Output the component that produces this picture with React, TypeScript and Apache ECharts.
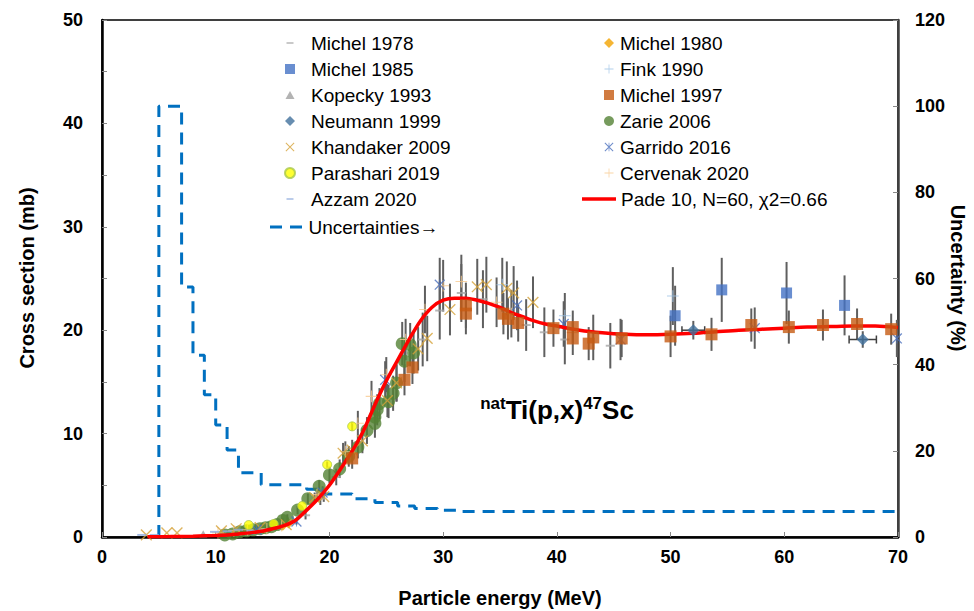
import React, { useEffect, useRef } from 'react';
import * as echarts from 'echarts';

// ---- data: [energy MeV, cross section mb, error mb] ----
const michel1978 = [[17.9,2.1,0.4],[19.2,3.7,0.6],[20.6,5.8,0.8],[28.2,19.1,2.6],[29.7,21.9,2.8],[31.6,23.6,2.8],[33.5,23.0,2.8],[37.3,20.5,2.5],[38.9,19.8,2.4],[40.7,19.1,2.4],[44.7,18.5,2.2]];
const michel1980 = [[15.9,1.1,0],[16.4,1.3,0]];
const michel1985 = [[50.4,21.4,2.9],[54.5,23.9,3.1],[60.2,23.6,3.0],[65.3,22.4,2.9]];
const fink1990 = [[35.2,24.4,2.6],[40.7,21.4,2.2],[50.2,23.3,2.8]];
const kopecky1993 = [[8.9,0.3,0],[10.6,0.4,0],[13.5,0.7,0]];
const michel1997 = [[22.0,7.6,1.0],[26.6,15.2,1.5],[27.3,16.4,1.6],[32.0,22.4,2.2],[32.0,21.6,2.0],[35.3,21.6,2.0],[35.7,21.1,2.0],[36.6,20.7,1.8],[39.7,20.2,1.8],[41.4,20.3,1.6],[41.4,19.2,1.6],[42.8,18.7,1.6],[43.2,19.3,2.2],[45.7,19.2,1.8],[50.0,19.4,2.0],[53.6,19.6,1.6],[57.1,20.5,1.6],[60.4,20.3,1.6],[63.4,20.5,1.5],[66.4,20.6,1.5],[69.4,20.1,1.5]];
// [energy, cross section, error mb, energy error MeV]
const neumann1999 = [[52.0,20.0,0.9,1.0],[66.9,19.1,0.8,1.2]];
const zarie2006 = [[10.8,0.2,0],[11.5,0.3,0],[12.1,0.5,0],[12.7,0.6,0],[13.3,0.7,0],[13.9,0.8,0],[14.4,0.9,0],[14.9,1.0,0],[15.4,1.2,0.2],[15.9,1.6,0.2],[16.3,1.9,0.3],[17.2,2.6,0.4],[18.1,3.7,0.5],[19.1,4.9,0.6],[20.0,6.0,0.8],[20.9,6.6,0.9],[21.7,7.8,1.0],[22.5,8.7,1.1],[23.3,10.3,1.3],[24.0,11.0,1.4],[24.0,11.6,1.4],[24.2,12.3,1.5],[24.4,12.9,1.5],[25.2,13.1,1.6],[25.6,13.9,1.7],[25.9,14.9,1.8],[26.6,17.0,2.0],[27.4,17.8,2.0],[26.4,18.7,2.1],[27.1,18.6,2.1]];
const khandaker2009 = [[3.9,0.2,0],[5.7,0.4,0],[6.6,0.4,0],[10.5,0.6,0],[11.8,0.8,0],[13.9,0.9,0],[16.2,1.2,0.2],[18.7,3.8,0.5],[19.5,3.9,0.5],[21.2,8.1,1.0],[22.0,8.4,1.0],[22.9,9.3,1.2],[25.1,13.2,1.6],[25.9,14.9,1.8],[27.8,18.2,2.1],[28.6,19.2,2.2],[30.6,22.0,2.5],[33.0,24.2,2.7],[33.8,24.4,2.7],[35.6,24.05,2.6],[36.2,23.6,2.6],[37.9,22.7,2.5]];
const garrido2016 = [[13.6,0.7,0],[17.1,1.5,0.3],[19.4,4.3,0.6],[24.9,15.2,1.8],[29.7,24.4,2.6],[36.5,22.4,2.4],[40.6,20.6,2.2],[45.6,19.1,2.0],[57.4,20.2,2.0],[69.9,19.2,1.8]];
const parashari2019 = [[12.9,1.16,0],[15.1,1.26,0],[17.6,3.0,0],[19.8,7.0,0.3],[22.0,10.7,0.4]];
const cervenak2020 = [[10.2,0.4,0],[11.6,0.6,0],[12.8,0.7,0],[14.5,0.8,0],[15.8,1.1,0],[18.9,4.1,0.5],[21.4,8.25,1.0],[22.5,11.0,1.2],[23.7,13.6,1.5],[25.0,15.7,1.7],[26.7,19.1,2.0],[28.4,22.0,2.3],[30.0,24.3,2.5],[31.6,24.7,2.6],[34.7,22.7,2.4],[36.0,21.6,2.3]];
const azzam2020 = [[3.5,0.2,0],[4.6,0.2,0],[9.9,0.5,0],[11.0,0.55,0],[12.0,0.7,0],[13.1,0.6,0],[14.2,0.7,0]];

// Pade fit
const fitE = [4,6,8,10,11,12,13,14,15,16,17,18,19,20,21,22,23,24,25,26,27,28,29,30,31,32,33,34,35,36,37,38,39,40,42,44,46,48,50,52,54,56,58,60,62,64,66,68,70];
const fitS = [0.02,0.04,0.08,0.15,0.2,0.3,0.4,0.55,0.8,1.1,1.6,2.6,3.7,5.0,6.6,8.3,10.3,12.8,15.1,17.1,19.1,20.9,22.2,22.9,23.1,23.1,22.9,22.6,22.2,21.7,21.3,20.9,20.6,20.4,20.0,19.75,19.6,19.55,19.6,19.7,19.85,20.0,20.1,20.2,20.3,20.35,20.4,20.4,20.25];

// Uncertainty (%) step line
const uncE = [5,5,7,7,8,8,9,9,10,10,11,11,12,12,14,14,18,18,19.5,19.5,22,22,24,24,26,26,27.5,27.5,29.5,29.5,31.5,31.5,70];
const uncU = [0,100,100,58,58,42.2,42.2,33,33,26,26,20.2,20.2,14.9,14.9,12.1,12.1,11.1,11.1,10.0,10.0,8.9,8.9,8.0,8.0,7.2,7.2,6.6,6.6,6.2,6.2,5.9,5.9];

const xTicks = { min: 0, max: 70, interval: 10 };
const yTicks = { min: 0, max: 50, interval: 5 };
const y2Ticks = { min: 0, max: 120, interval: 20 };

const FONT = 'Liberation Sans, Arial, Helvetica, sans-serif';

const SYM_DASH = 'path://M0 0M20 20M3 8.5L17 8.5L17 11.5L3 11.5Z';
const SYM_PLUS = 'path://M0 0M20 20M9.2 1L10.8 1L10.8 19L9.2 19Z M1 9.2L19 9.2L19 10.8L1 10.8Z';
const SYM_X = 'path://M0 0M20 20M1 2.5L2.5 1L19 17.5L17.5 19Z M17.5 1L19 2.5L2.5 19L1 17.5Z';
const SYM_AST = 'path://M0 0M20 20M1 2.5L2.5 1L19 17.5L17.5 19Z M17.5 1L19 2.5L2.5 19L1 17.5Z M9.3 1.5L10.7 1.5L10.7 18.5L9.3 18.5Z';
const SYM_RECT = 'path://M0 0L20 0L20 20L0 20Z';
const SYM_DIAMOND = 'path://M10 0L20 10L10 20L0 10Z';
const SYM_TRI = 'path://M0 0M20 20M10 2L19 18L1 18Z';
const ICON_DASHES = 'path://M0 0L12 0L12 3L0 3Z M20 0L32 0L32 3L20 3Z';

function scatter(name: string, data: number[][], symbol: string, size: number, itemStyle: any, z = 3) {
  return {
    type: 'scatter',
    name,
    data: data.map((d) => [d[0], d[1]]),
    symbol,
    symbolSize: size,
    symbolKeepAspect: true,
    itemStyle,
    z,
    silent: true,
  };
}

export default function App() {
  const ref = useRef<HTMLDivElement>(null);
  useEffect(() => {
    const chart = echarts.init(ref.current!, undefined, { renderer: 'svg' });

    const allSets = [michel1978, michel1980, michel1985, fink1990, kopecky1993, michel1997, neumann1999, zarie2006, khandaker2009, garrido2016, parashari2019, cervenak2020, azzam2020];
    const errV: number[][] = [];
    allSets.forEach((s) => s.forEach((d) => { if (d[2] > 0) errV.push([d[0], d[1] - d[2], d[1] + d[2]]); }));
    const errH = neumann1999.map((d) => [d[0] - d[3], d[0] + d[3], d[1]]);

    const legendText = { fontSize: 19, fontFamily: FONT, color: '#000', lineHeight: 20 };
    const legendBase = { orient: 'vertical', padding: 0, itemHeight: 10, itemGap: 6, textStyle: legendText, selectedMode: false, symbolKeepAspect: true };

    const option: any = {
      animation: false,
      backgroundColor: '#fff',
      grid: { left: 102, right: 76, top: 20, bottom: 74, show: true, borderColor: '#000', borderWidth: 1.5 },
      xAxis: {
        type: 'value', ...xTicks,
        axisLine: { show: true, onZero: false, lineStyle: { color: '#000', width: 2.5 } },
        axisTick: { show: true, inside: true, length: 5, lineStyle: { color: '#888' } },
        axisLabel: { fontSize: 18, fontWeight: 'bold', fontFamily: FONT, color: '#000', margin: 11 },
        splitLine: { show: false },
      },
      yAxis: [
        {
          type: 'value', ...yTicks, position: 'left',
          axisLine: { show: true, onZero: false, lineStyle: { color: '#000', width: 2.5 } },
          axisTick: { show: true, inside: true, length: 5, lineStyle: { color: '#888' } },
          axisLabel: { fontSize: 18, fontWeight: 'bold', fontFamily: FONT, color: '#000', margin: 19,
            formatter: (v: number) => (v % 10 === 0 ? String(v) : '') },
          splitLine: { show: false },
        },
        {
          type: 'value', ...y2Ticks, position: 'right',
          axisLine: { show: true, onZero: false, lineStyle: { color: '#404040', width: 2.5 } },
          axisTick: { show: true, inside: true, length: 5, lineStyle: { color: '#888' } },
          axisLabel: { fontSize: 18, fontWeight: 'bold', fontFamily: FONT, color: '#000', margin: 17 },
          splitLine: { show: false },
        },
      ],
      legend: [
        { ...legendBase, left: 284, top: 33, itemWidth: 10, textStyle: { ...legendText, padding: [0, 0, 0, 11] },
          data: ['Michel 1978', 'Michel 1985', 'Kopecky 1993', 'Neumann 1999', 'Khandaker 2009', 'Parashari 2019', 'Azzam 2020'] },
        { ...legendBase, left: 270, top: 217, itemWidth: 35, itemHeight: 3,
          data: [{ name: 'Uncertainties→', icon: ICON_DASHES }] },
        { ...legendBase, left: 604, top: 33, itemWidth: 10, textStyle: { ...legendText, padding: [0, 0, 0, 1] },
          data: ['Michel 1980', 'Fink 1990', 'Michel 1997', 'Zarie 2006', 'Garrido 2016', 'Cervenak 2020'] },
        { ...legendBase, left: 582, top: 189, itemWidth: 34, itemHeight: 3.5,
          data: [{ name: 'Pade 10, N=60, χ2=0.66', icon: 'rect' }] },
      ],
      graphic: [
        { type: 'text', x: 27, y: 278, rotation: Math.PI / 2, silent: true,
          style: { text: 'Cross section (mb)', fontSize: 20, fontWeight: 'bold', fontFamily: FONT, fill: '#000', align: 'center', verticalAlign: 'middle' } },
        { type: 'text', x: 958, y: 278, rotation: -Math.PI / 2, silent: true,
          style: { text: 'Uncertainty (%)', fontSize: 20, fontWeight: 'bold', fontFamily: FONT, fill: '#000', align: 'center', verticalAlign: 'middle' } },
        { type: 'text', x: 500, y: 598, silent: true,
          style: { text: 'Particle energy (MeV)', fontSize: 20, fontWeight: 'bold', fontFamily: FONT, fill: '#000', align: 'center', verticalAlign: 'middle' } },
        { type: 'text', x: 557, y: 410, silent: true,
          style: {
            text: '{s|nat}{m|Ti(p,x)}{s|47}{m|Sc}', align: 'center', verticalAlign: 'middle', fill: '#000',
            rich: {
              m: { fontSize: 26, fontWeight: 'bold', fontFamily: FONT, fill: '#000', lineHeight: 30 },
              s: { fontSize: 17, fontWeight: 'bold', fontFamily: FONT, fill: '#000', lineHeight: 18, verticalAlign: 'top' },
            },
          } },
      ],
      series: [
        {
          type: 'custom', name: 'errV', data: errV, z: 1, silent: true,
          encode: { x: 0, y: [1, 2] },
          renderItem: (params: any, api: any) => {
            const p1 = api.coord([api.value(0), api.value(1)]);
            const p2 = api.coord([api.value(0), api.value(2)]);
            return { type: 'line', shape: { x1: p1[0], y1: p1[1], x2: p2[0], y2: p2[1] }, style: { stroke: '#5f5f5f', lineWidth: 2 } };
          },
        },
        {
          type: 'custom', name: 'errH', data: errH, z: 1, silent: true,
          encode: { x: [0, 1], y: 2 },
          renderItem: (params: any, api: any) => {
            const p1 = api.coord([api.value(0), api.value(2)]);
            const p2 = api.coord([api.value(1), api.value(2)]);
            return {
              type: 'group',
              children: [
                { type: 'line', shape: { x1: p1[0], y1: p1[1], x2: p2[0], y2: p2[1] }, style: { stroke: '#404040', lineWidth: 1.5 } },
                { type: 'line', shape: { x1: p1[0], y1: p1[1] - 4, x2: p1[0], y2: p1[1] + 4 }, style: { stroke: '#404040', lineWidth: 1.5 } },
                { type: 'line', shape: { x1: p2[0], y1: p2[1] - 4, x2: p2[0], y2: p2[1] + 4 }, style: { stroke: '#404040', lineWidth: 1.5 } },
              ],
            };
          },
        },
        {
          type: 'line', name: 'Uncertainties→', yAxisIndex: 1, z: 2, silent: true,
          data: uncE.map((e, i) => [e, uncU[i]]), symbol: 'none',
          lineStyle: { color: '#0070c0', width: 3, type: [12, 8] }, itemStyle: { color: '#0070c0' },
        },
        scatter('Michel 1978', michel1978, SYM_DASH, 13, { color: '#a6a6a6' }),
        scatter('Michel 1980', michel1980, SYM_DIAMOND, 10, { color: '#f2a300' }),
        scatter('Kopecky 1993', kopecky1993, SYM_TRI, 9, { color: '#a0a0a0' }),
        scatter('Zarie 2006', zarie2006, 'circle', 13, { color: '#548235' }),
        scatter('Fink 1990', fink1990, SYM_PLUS, 13, { color: '#9dc3e6' }),
        scatter('Cervenak 2020', cervenak2020, SYM_PLUS, 13, { color: '#f8c98f' }),
        scatter('Khandaker 2009', khandaker2009, SYM_X, 13, { color: '#d6a33a' }),
        scatter('Garrido 2016', garrido2016, SYM_AST, 12, { color: '#4a6fbd' }),
        scatter('Parashari 2019', parashari2019, 'circle', 9, { color: '#ffff00', borderColor: '#a9c84a', borderWidth: 1 }),
        scatter('Azzam 2020', azzam2020, SYM_DASH, 13, { color: '#8faadc' }),
        {
          type: 'line', name: 'Pade 10, N=60, χ2=0.66', z: 4, silent: true,
          data: fitE.map((e, i) => [e, fitS[i]]), symbol: 'none', smooth: 0.3,
          lineStyle: { color: '#ff0000', width: 3.5 }, itemStyle: { color: '#ff0000' },
        },
        scatter('Michel 1985', michel1985, SYM_RECT, 11, { color: '#4472c4' }, 5),
        scatter('Michel 1997', michel1997, SYM_RECT, 12, { color: '#c55a11' }, 5),
        scatter('Neumann 1999', neumann1999, SYM_DIAMOND, 12, { color: '#41719c' }, 5),
      ],
    };
    chart.setOption(option);
    return () => chart.dispose();
  }, []);
  return <div ref={ref} style={{ position: 'fixed', left: 0, top: 0, width: 974, height: 611, background: '#fff' }} />;
}
